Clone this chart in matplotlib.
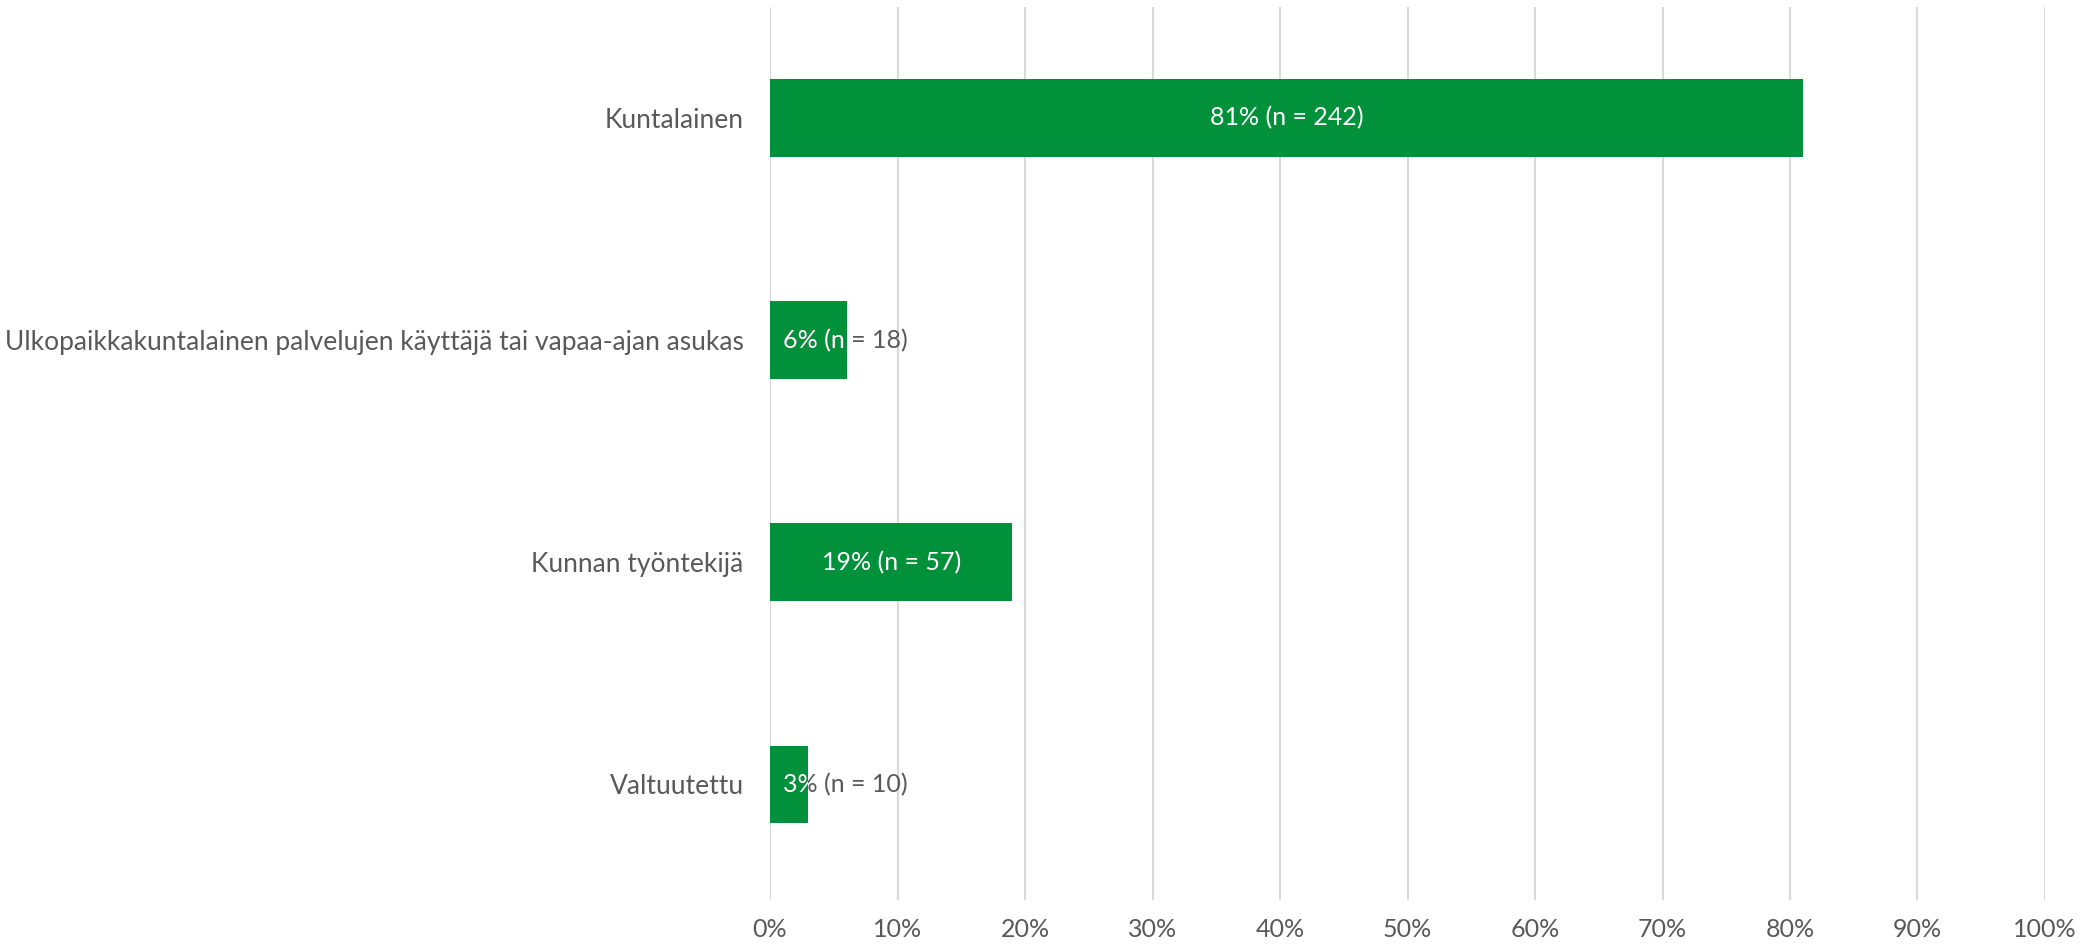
import matplotlib
matplotlib.use("Agg")
import matplotlib.pyplot as plt
from matplotlib.transforms import Bbox, TransformedBbox
from matplotlib.ticker import FuncFormatter, MultipleLocator

categories = ["Kuntalainen",
              "Ulkopaikkakuntalainen palvelujen käyttäjä tai vapaa-ajan asukas",
              "Kunnan työntekijä",
              "Valtuutettu"]
values = [81, 6, 19, 3]
counts = [242, 18, 57, 10]

plt.rcParams['font.family'] = ['Lato', 'DejaVu Sans']
TEXT = '#595959'
GREEN = '#00913A'
GRID = '#D9D9D9'
FS = 18

fig = plt.figure(figsize=(21, 9.48), dpi=100)
ax = fig.add_axes([770/2100, 1-900/948, 1275/2100, (900-7)/948])

ypos = list(range(len(categories)))
bars = ax.barh(ypos, values, height=0.35, color=GREEN, zorder=3)
ax.set_xlim(0, 100)
ax.set_ylim(len(categories)-0.48, -0.50)
ax.set_yticks(ypos)
ax.set_yticklabels(categories)
ax.xaxis.set_major_locator(MultipleLocator(10))
ax.xaxis.set_major_formatter(FuncFormatter(lambda v, p: f"{v:.0f}%"))
ax.tick_params(axis='both', length=0, labelsize=FS, labelcolor=TEXT)
ax.tick_params(axis='y', pad=19, labelsize=19)
ax.tick_params(axis='x', pad=13)
for s in ax.spines.values():
    s.set_visible(False)
ax.grid(axis='x', color=GRID, linewidth=1.5, zorder=0)
ax.set_axisbelow(True)

fig.canvas.draw()
renderer = fig.canvas.get_renderer()
pad_px = 13
for bar, v, n in zip(bars, values, counts):
    label = f"{v}% (n = {n})"
    y0 = bar.get_y()
    y1 = y0 + bar.get_height()
    yc = (y0 + y1) / 2
    t = ax.text(0, yc, label, fontsize=FS, ha='left', va='center', color=TEXT, zorder=4)
    w = t.get_window_extent(renderer).width
    x0_px = ax.transData.transform((0, yc))[0]
    x1_px = ax.transData.transform((v, yc))[0]
    if w + 2*pad_px <= x1_px - x0_px:
        t.remove()
        ax.text(v/2, yc, label, fontsize=FS, ha='center', va='center', color='white', zorder=4)
    else:
        xstart = ax.transData.inverted().transform((x0_px + pad_px, 0))[0]
        t.set_x(xstart)
        tw = ax.text(xstart, yc, label, fontsize=FS, ha='left', va='center', color='white', zorder=5)
        tw.set_clip_on(True)
        tw.set_clip_box(TransformedBbox(Bbox.from_extents(0, min(y0, y1), v, max(y0, y1)), ax.transData))

fig.savefig("out.png", dpi=100)
